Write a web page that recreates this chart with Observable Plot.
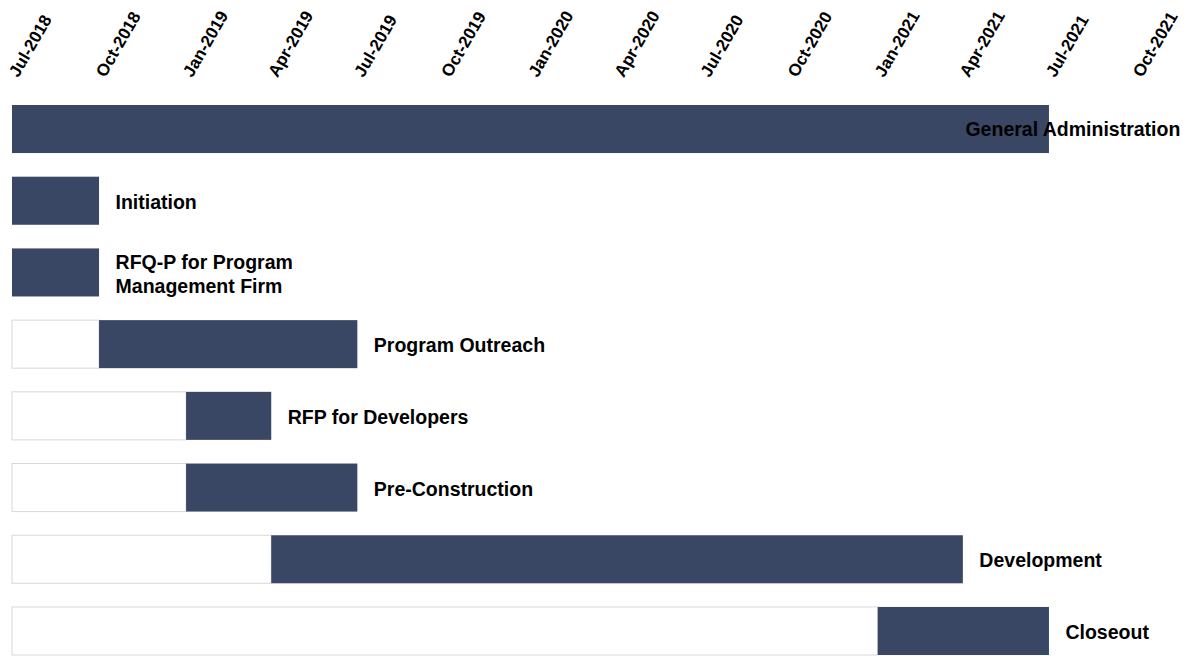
<!DOCTYPE html>
<html>
<head>
<meta charset="utf-8">
<script src="https://cdn.jsdelivr.net/npm/d3@7"></script>
<script src="https://cdn.jsdelivr.net/npm/@observablehq/plot@0.6"></script>
<style>
  html, body { margin: 0; padding: 0; background: #fff; }
  #chart svg { display: block; }
</style>
</head>
<body>
<div id="chart"></div>
<script>
const tasks = [
  "General Administration",
  "Initiation",
  "RFQ-P for Program\nManagement Firm",
  "Program Outreach",
  "RFP for Developers",
  "Pre-Construction",
  "Development",
  "Closeout"
];
const starts = ["2018-07-01","2018-07-01","2018-07-01","2018-10-01","2019-01-01","2019-01-01","2019-04-01","2021-01-01"];
const ends   = ["2021-07-01","2018-10-01","2018-10-01","2019-07-01","2019-04-01","2019-07-01","2021-04-01","2021-07-01"];
const axisStart = "2018-07-01";
const axisEnd = "2021-10-01";
const tickDates = ["2018-07-01","2018-10-01","2019-01-01","2019-04-01","2019-07-01","2019-10-01","2020-01-01","2020-04-01","2020-07-01","2020-10-01","2021-01-01","2021-04-01","2021-07-01","2021-10-01"];

const P = d => new Date(d + "T00:00:00Z");
const rows = tasks.map((t, i) => ({task: t, start: P(starts[i]), end: P(ends[i]), base: P(axisStart)}));
const offsetRows = rows.filter(r => +r.start > +r.base);
const ga = rows.filter(r => r.task === "General Administration");
const others = rows.filter(r => r.task !== "General Administration");

const FONT = "'Liberation Sans', Arial, sans-serif";
const NAVY = "#394664";

const chart = Plot.plot({
  width: 1201,
  height: 656,
  marginLeft: 12,
  marginRight: 65,
  marginTop: 105,
  marginBottom: 1,
  style: {fontFamily: FONT, background: "#fff", overflow: "visible"},
  x: {type: "utc", domain: [P(axisStart), P(axisEnd)], axis: null},
  y: {domain: tasks, paddingInner: 0.33, paddingOuter: 0, round: false, axis: null},
  marks: [
    Plot.axisX({
      anchor: "top",
      ticks: tickDates.map(P),
      tickFormat: d3.utcFormat("%b-%Y"),
      tickSize: 0,
      tickRotate: -60,
      textAnchor: "start",
      fontSize: 17,
      fontWeight: "bold",
      fill: "#000",
      dy: -19,
      dx: 1
    }),
    Plot.barX(offsetRows, {y: "task", x1: "base", x2: "start", fill: "#fff", stroke: "#d5d8de", strokeWidth: 1}),
    Plot.barX(rows, {y: "task", x1: "start", x2: "end", fill: NAVY}),
    Plot.text(others, {y: "task", x: "end", text: "task", textAnchor: "start", dx: 16, fontSize: 19.5, fontWeight: "bold", fill: "#000", lineHeight: 1.23}),
    Plot.text(ga, {y: "task", x: "end", text: "task", textAnchor: "start", dx: -84, fontSize: 19.5, fontWeight: "bold", fill: "#000"})
  ]
});
document.getElementById("chart").appendChild(chart);
</script>
</body>
</html>
